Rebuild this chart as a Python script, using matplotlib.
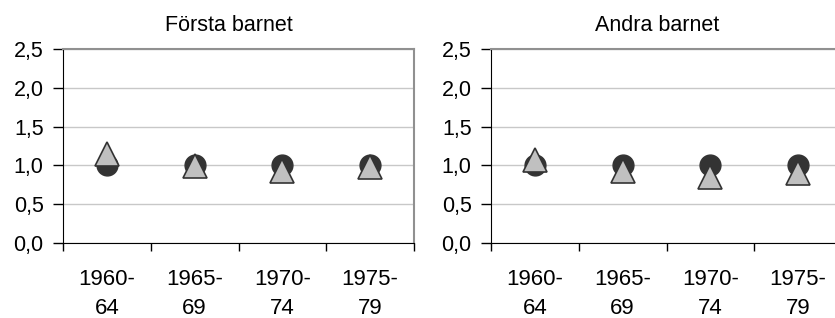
import matplotlib
matplotlib.use("Agg")
import matplotlib.pyplot as plt

perioder = ["1960-\n64", "1965-\n69", "1970-\n74", "1975-\n79"]

# cirklar (referens = 1)
forsta_cirkel = [1.0, 1.0, 1.0, 1.0]
forsta_triangel = [1.15, 0.99, 0.93, 0.98]

andra_cirkel = [1.0, 1.0, 1.0, 1.0]
andra_triangel = [1.07, 0.93, 0.85, 0.90]

plt.rcParams['font.family'] = ['Liberation Sans', 'DejaVu Sans']


def rita_panel(ax, titel, cirkel, triangel):
    x = range(len(perioder))
    ax.plot(x, cirkel, linestyle='none', marker='o', markersize=15,
            color='#333333', zorder=3)
    ax.plot(x, triangel, linestyle='none', marker='^', markersize=17,
            markerfacecolor='#c0c0c0', markeredgecolor='#333333',
            markeredgewidth=1.2, zorder=4)

    ax.set_xlim(-0.5, len(perioder) - 0.5)
    ax.set_ylim(0, 2.5)
    ax.set_yticks([0, 0.5, 1.0, 1.5, 2.0, 2.5])
    ax.set_yticklabels(["0,0", "0,5", "1,0", "1,5", "2,0", "2,5"])
    ax.set_xticks(list(x))
    ax.set_xticklabels(perioder, linespacing=1.45)
    ax.set_xticks([i - 0.5 for i in range(len(perioder) + 1)], minor=True)

    ax.tick_params(axis='x', which='major', length=0, pad=19, labelsize=16)
    ax.tick_params(axis='x', which='minor', length=6, width=1, direction='out')
    ax.tick_params(axis='y', length=7, width=1, pad=7, labelsize=15.5)

    ax.grid(axis='y', color='#c8c8c8', linewidth=1)
    ax.set_axisbelow(True)
    ax.spines['left'].set_color('black')
    ax.spines['bottom'].set_color('black')
    ax.spines['top'].set_color('#909090')
    ax.spines['right'].set_color('#909090')
    ax.spines['top'].set_linewidth(1.5)
    ax.spines['right'].set_linewidth(1.5)
    ax.set_title(titel, fontsize=15.5, x=0.473, pad=13)


fig = plt.figure(figsize=(8.35, 3.18), dpi=100)
ax1 = fig.add_axes([63 / 835, 75 / 318, 351 / 835, 194 / 318])
ax2 = fig.add_axes([491 / 835, 75 / 318, 351 / 835, 194 / 318])

rita_panel(ax1, "Första barnet", forsta_cirkel, forsta_triangel)
rita_panel(ax2, "Andra barnet", andra_cirkel, andra_triangel)

fig.savefig("out.png", dpi=100)
